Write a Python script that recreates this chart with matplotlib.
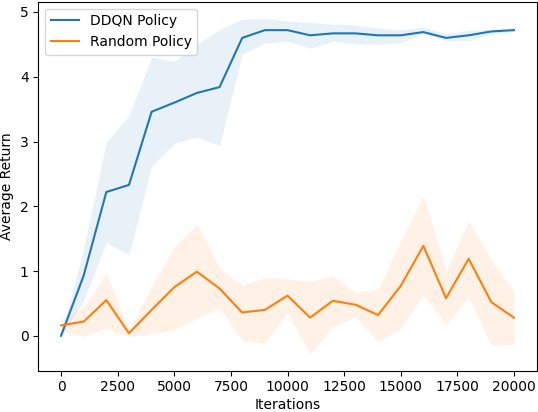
import matplotlib
matplotlib.use("Agg")
import matplotlib.pyplot as plt
import numpy as np

iterations = np.arange(0, 21000, 1000)

ddqn_mean = [0.0, 0.93, 2.22, 2.33, 3.46, 3.6, 3.75, 3.84, 4.6, 4.72, 4.72,
             4.64, 4.67, 4.67, 4.64, 4.64, 4.69, 4.6, 4.64, 4.7, 4.72]
ddqn_upper = [0.0, 1.35, 2.99, 3.4, 4.3, 4.24, 4.5, 4.73, 4.89, 4.9, 4.86,
              4.84, 4.81, 4.8, 4.75, 4.72, 4.77, 4.66, 4.72, 4.73, 4.74]
ddqn_lower = [0.0, 0.55, 1.44, 1.25, 2.63, 2.97, 3.07, 2.94, 4.35, 4.52, 4.55,
              4.44, 4.55, 4.51, 4.5, 4.53, 4.66, 4.56, 4.56, 4.66, 4.7]

random_mean = [0.16, 0.22, 0.55, 0.04, 0.4, 0.75, 0.99, 0.73, 0.36, 0.4, 0.62,
               0.28, 0.54, 0.48, 0.32, 0.77, 1.39, 0.58, 1.19, 0.52, 0.28]
random_upper = [0.25, 0.45, 0.97, 0.09, 0.76, 1.37, 1.72, 1.04, 0.78, 0.9, 0.88,
                0.84, 0.93, 0.67, 0.72, 1.45, 2.16, 0.99, 1.78, 1.17, 0.68]
random_lower = [0.07, -0.01, 0.12, -0.01, 0.03, 0.1, 0.27, 0.43, -0.07, -0.11, 0.35,
                -0.28, 0.14, 0.29, -0.09, 0.12, 0.63, 0.17, 0.6, -0.15, -0.13]

fig = plt.figure(figsize=(5.38, 4.12), dpi=100)
ax = fig.add_axes([38.4 / 538, 1 - 370.7 / 412, (536.6 - 38.4) / 538, (370.7 - 1.7) / 412])

ax.plot(iterations, ddqn_mean, color="C0", label="DDQN Policy")
ax.fill_between(iterations, ddqn_lower, ddqn_upper, color="C0", alpha=0.1, linewidth=0)
ax.plot(iterations, random_mean, color="C1", label="Random Policy")
ax.fill_between(iterations, random_lower, random_upper, color="C1", alpha=0.1, linewidth=0)

ax.set_xlabel("Iterations", labelpad=2.8)
ax.set_ylabel("Average Return")
ax.legend(loc="upper left")

fig.savefig("out.png", dpi=100)
